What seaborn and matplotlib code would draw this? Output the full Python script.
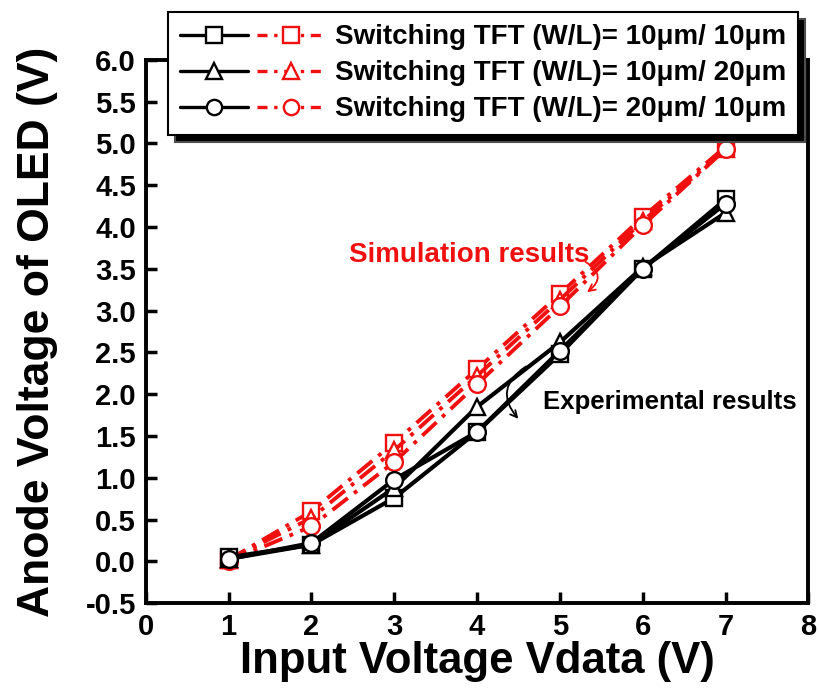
import matplotlib
matplotlib.use("Agg")
import matplotlib.pyplot as plt
import seaborn as sns
import pandas as pd
from matplotlib.legend_handler import HandlerTuple
from matplotlib.lines import Line2D

sns.set_theme(style="white")
plt.rcParams['font.family'] = ['Liberation Sans', 'DejaVu Sans']
plt.rcParams['font.weight'] = 'bold'
plt.rcParams['text.color'] = 'black'
plt.rcParams['axes.labelcolor'] = 'black'
plt.rcParams['xtick.color'] = 'black'
plt.rcParams['ytick.color'] = 'black'

vdata = [1, 2, 3, 4, 5, 6, 7]
labels = ["Switching TFT (W/L)= 10\u03bcm/ 10\u03bcm",
          "Switching TFT (W/L)= 10\u03bcm/ 20\u03bcm",
          "Switching TFT (W/L)= 20\u03bcm/ 10\u03bcm"]
markers = ["s", "^", "o"]

exp_10_10 = [0.05, 0.20, 0.76, 1.55, 2.48, 3.50, 4.33]
exp_10_20 = [0.03, 0.20, 0.88, 1.85, 2.62, 3.52, 4.17]
exp_20_10 = [0.03, 0.22, 0.98, 1.55, 2.52, 3.50, 4.28]

sim_10_10 = [0.02, 0.60, 1.42, 2.30, 3.20, 4.12, 4.96]
sim_10_20 = [0.02, 0.52, 1.33, 2.22, 3.13, 4.07, 4.93]
sim_20_10 = [0.00, 0.42, 1.19, 2.12, 3.05, 4.02, 4.93]

exp_series = [exp_10_10, exp_10_20, exp_20_10]
sim_series = [sim_10_10, sim_10_20, sim_20_10]

RED = "#f01010"

fig = plt.figure(figsize=(8.19, 6.95), dpi=100)
ax = fig.add_axes([0.178, 0.132, 0.809, 0.782])

handles = []
for i in range(3):
    df_e = pd.DataFrame({"x": vdata, "y": exp_series[i]})
    df_s = pd.DataFrame({"x": vdata, "y": sim_series[i]})
    sns.lineplot(data=df_s, x="x", y="y", ax=ax, color=RED, linestyle=(0, (5, 2, 1, 2)),
                 linewidth=2.8, marker=markers[i], markersize=12, markerfacecolor="white",
                 markeredgecolor=RED, markeredgewidth=1.7, zorder=3)
    sns.lineplot(data=df_e, x="x", y="y", ax=ax, color="black", linestyle="-",
                 linewidth=3.0, marker=markers[i], markersize=12, markerfacecolor="white",
                 markeredgecolor="black", markeredgewidth=1.7, zorder=4)
    h_e = Line2D([], [], color="black", linewidth=2.4, marker=markers[i], markersize=11,
                 markerfacecolor="white", markeredgecolor="black", markeredgewidth=1.7)
    h_s = Line2D([], [], color=RED, linewidth=2.4, linestyle=(0, (3, 2, 1, 2)),
                 marker=markers[i], markersize=11, markerfacecolor="white",
                 markeredgecolor=RED, markeredgewidth=1.7)
    handles.append((h_e, h_s))

ax.set_xlim(0, 8)
ax.set_ylim(-0.5, 6.0)
ax.set_xticks(range(0, 9))
ax.set_yticks([-0.5 + 0.5 * k for k in range(14)])
ax.set_yticklabels([f"{-0.5 + 0.5 * k:.1f}" for k in range(14)])
ax.tick_params(axis="both", direction="in", length=8, width=2.5, labelsize=21,
               left=True, bottom=True, top=False, right=False, pad=7,
               colors="black", labelcolor="black")
for lab in ax.get_xticklabels() + ax.get_yticklabels():
    lab.set_fontweight("bold")
for sp in ax.spines.values():
    sp.set_linewidth(2.8)
    sp.set_color("black")

ax.set_xlabel("Input Voltage Vdata (V)", fontsize=31.5, fontweight="bold", labelpad=0,
              color="black")
ax.set_ylabel("Anode Voltage of OLED (V)", fontsize=32, fontweight="bold", labelpad=20,
              color="black")

ax.text(3.9, 3.67, "Simulation results", color=RED, fontsize=20,
        fontweight="bold", ha="center", va="center")
ax.text(6.33, 1.91, "Experimental results", color="black", fontsize=18.5,
        fontweight="bold", ha="center", va="center")

ax.annotate("", xy=(5.3, 3.2), xytext=(5.28, 3.6),
            arrowprops=dict(arrowstyle="->", color=RED, lw=1.3,
                            connectionstyle="arc3,rad=-0.8"))
ax.annotate("", xy=(4.52, 1.68), xytext=(4.62, 2.35),
            arrowprops=dict(arrowstyle="->", color="black", lw=1.3,
                            connectionstyle="arc3,rad=0.6"))

leg = fig.legend(handles, labels, handler_map={tuple: HandlerTuple(ndivide=None, pad=0.3)},
                 loc="upper left", bbox_to_anchor=(0.205, 0.983), fontsize=20,
                 handlelength=5.2, handletextpad=0.35, labelspacing=0.36,
                 borderpad=0.45, borderaxespad=0.0, fancybox=False, frameon=True,
                 shadow={"ox": 5, "oy": -5, "facecolor": "black", "alpha": 1})
leg.get_frame().set_edgecolor("black")
leg.get_frame().set_linewidth(1.5)
for t in leg.get_texts():
    t.set_fontweight("bold")
    t.set_color("black")

fig.savefig("out.png", dpi=100)
